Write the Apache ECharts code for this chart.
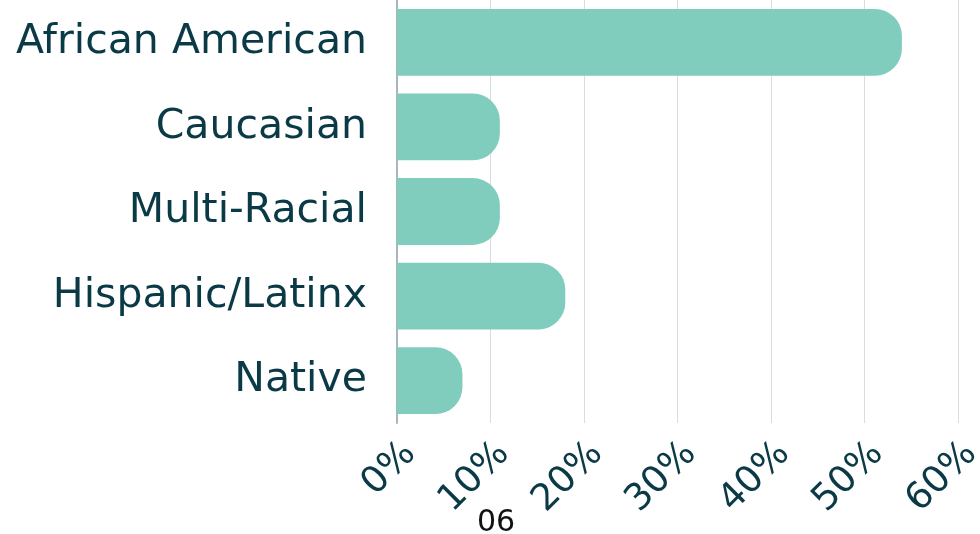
<!DOCTYPE html>
<html>
<head>
<meta charset="utf-8">
<script src="https://cdn.jsdelivr.net/npm/echarts@6/dist/echarts.min.js"></script>
<style>
  html, body { margin: 0; padding: 0; background: #fff; }
  #chart-ctn { width: 980px; height: 534px; }
</style>
</head>
<body>
<div id="chart-ctn"></div>
<script>
var categories = ['African American', 'Caucasian', 'Multi-Racial', 'Hispanic/Latinx', 'Native'];
var shares = [54, 11, 11, 18, 7];
var pageLabel = '06';

var myChart = echarts.init(document.getElementById('chart-ctn'));
var textColor = '#0b3a47';
var fontName = 'DejaVu Sans';

var option = {
  animation: false,
  grid: {
    left: 397,
    right: 22,
    top: 0,
    bottom: 111,
    outerBoundsMode: 'none'
  },
  xAxis: {
    type: 'value',
    min: 0,
    max: 60,
    interval: 10,
    axisLine: {show: false},
    axisTick: {show: false},
    splitLine: {lineStyle: {color: '#d5dde0', width: 1}},
    axisLabel: {
      formatter: '{value}%',
      rotate: 45,
      margin: 12,
      verticalAlign: 'top',
      hideOverlap: false,
      color: textColor,
      fontSize: 37,
      fontFamily: fontName
    }
  },
  yAxis: {
    type: 'category',
    inverse: true,
    data: categories,
    axisLine: {lineStyle: {color: '#a9b6ba', width: 2}},
    axisTick: {show: false},
    axisLabel: {
      margin: 30,
      color: textColor,
      fontSize: 41,
      fontFamily: fontName
    }
  },
  series: [
    {
      type: 'bar',
      data: shares,
      barCategoryGap: '21%',
      itemStyle: {
        color: '#80ccbd',
        borderRadius: [0, 27, 27, 0]
      }
    }
  ],
  graphic: [
    {
      type: 'text',
      left: 477,
      top: 508,
      style: {
        text: pageLabel,
        fill: '#111',
        fontSize: 30,
        fontFamily: fontName
      }
    }
  ]
};
myChart.setOption(option);
</script>
</body>
</html>
